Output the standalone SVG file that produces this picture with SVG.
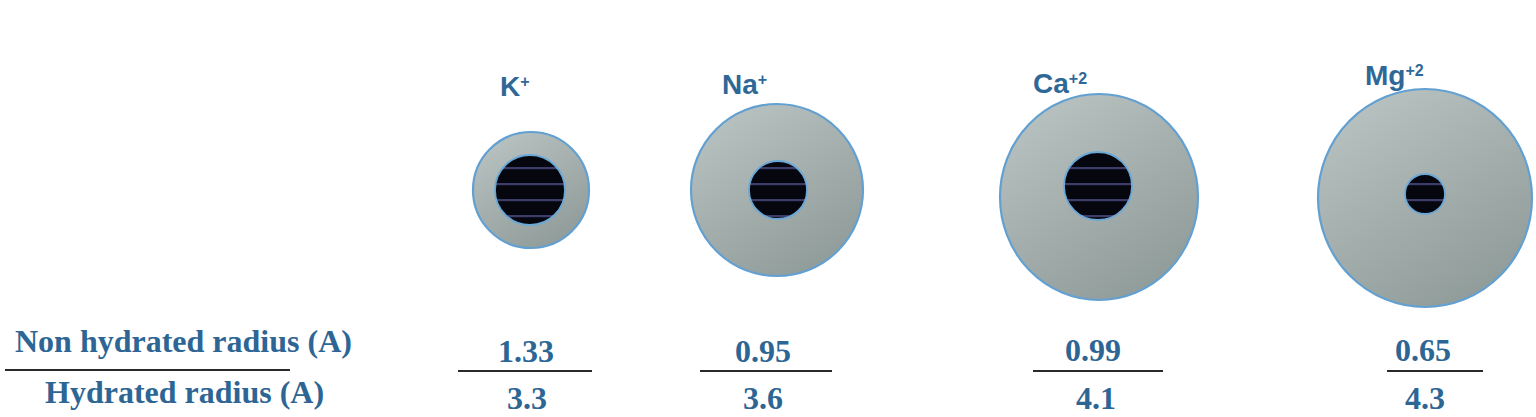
<svg xmlns="http://www.w3.org/2000/svg" width="1536" height="417" viewBox="0 0 1536 417">
  <defs>
    <linearGradient id="shell" x1="0.2" y1="0" x2="0.8" y2="1">
      <stop offset="0" stop-color="#b9c3c1"/>
      <stop offset="1" stop-color="#8e9a98"/>
    </linearGradient>
    <pattern id="stripes" patternUnits="userSpaceOnUse" width="200" height="16" x="0" y="0">
      <rect width="200" height="16" fill="#06060e"/>
      <rect y="7" width="200" height="2.2" fill="#3d3d6c"/>
    </pattern>
  </defs>
  <style>
    .shell { fill: url(#shell); stroke: #63a0d2; stroke-width: 2.2; }
    .core { fill: url(#stripes); stroke: #6aa8d8; stroke-width: 1.8; }
    .title { font-family: "Liberation Sans", Arial, sans-serif; font-weight: bold; font-size: 28px; fill: #2f6896; }
    .sup { font-size: 16px; }
    .lbl { font-family: "Liberation Serif", "Times New Roman", serif; font-weight: bold; font-size: 32px; fill: #2d6694; }
    .num { font-family: "Liberation Serif", "Times New Roman", serif; font-weight: bold; font-size: 32px; fill: #2d6694; text-anchor: middle; }
    .bar { stroke: #2a2a2a; stroke-width: 2.2; }
  </style>
  <rect width="1536" height="417" fill="#ffffff"/>

  <g id="labels">
    <text class="lbl" x="15" y="352">Non hydrated radius (A)</text>
    <line class="bar" x1="5" y1="370" x2="290" y2="370"/>
    <text class="lbl" x="45" y="403">Hydrated radius (A)</text>
  </g>

  <g id="K">
    <text class="title" x="500" y="96">K<tspan class="sup" dy="-9">+</tspan></text>
    <circle class="shell" cx="531" cy="190" r="58"/>
    <circle class="core" cx="530" cy="190" r="35"/>
    <text class="num" x="526" y="362">1.33</text>
    <line class="bar" x1="458" y1="371" x2="592" y2="371"/>
    <text class="num" x="527" y="409">3.3</text>
  </g>

  <g id="Na">
    <text class="title" x="722" y="94">Na<tspan class="sup" dy="-9">+</tspan></text>
    <circle class="shell" cx="777" cy="190" r="86"/>
    <circle class="core" cx="778" cy="190" r="29"/>
    <text class="num" x="763" y="362">0.95</text>
    <line class="bar" x1="700" y1="371" x2="832" y2="371"/>
    <text class="num" x="763" y="409">3.6</text>
  </g>

  <g id="Ca">
    <text class="title" x="1033" y="93">Ca<tspan class="sup" dy="-9">+2</tspan></text>
    <ellipse class="shell" cx="1099" cy="197" rx="99" ry="103"/>
    <circle class="core" cx="1098" cy="186" r="34"/>
    <text class="num" x="1093" y="361">0.99</text>
    <line class="bar" x1="1033" y1="371" x2="1163" y2="371"/>
    <text class="num" x="1096" y="409">4.1</text>
  </g>

  <g id="Mg">
    <text class="title" x="1365" y="85">Mg<tspan class="sup" dy="-9">+2</tspan></text>
    <ellipse class="shell" cx="1425" cy="198" rx="107" ry="109"/>
    <circle class="core" cx="1425" cy="194" r="20"/>
    <text class="num" x="1423" y="361">0.65</text>
    <line class="bar" x1="1387" y1="371" x2="1483" y2="371"/>
    <text class="num" x="1425" y="409">4.3</text>
  </g>
</svg>
